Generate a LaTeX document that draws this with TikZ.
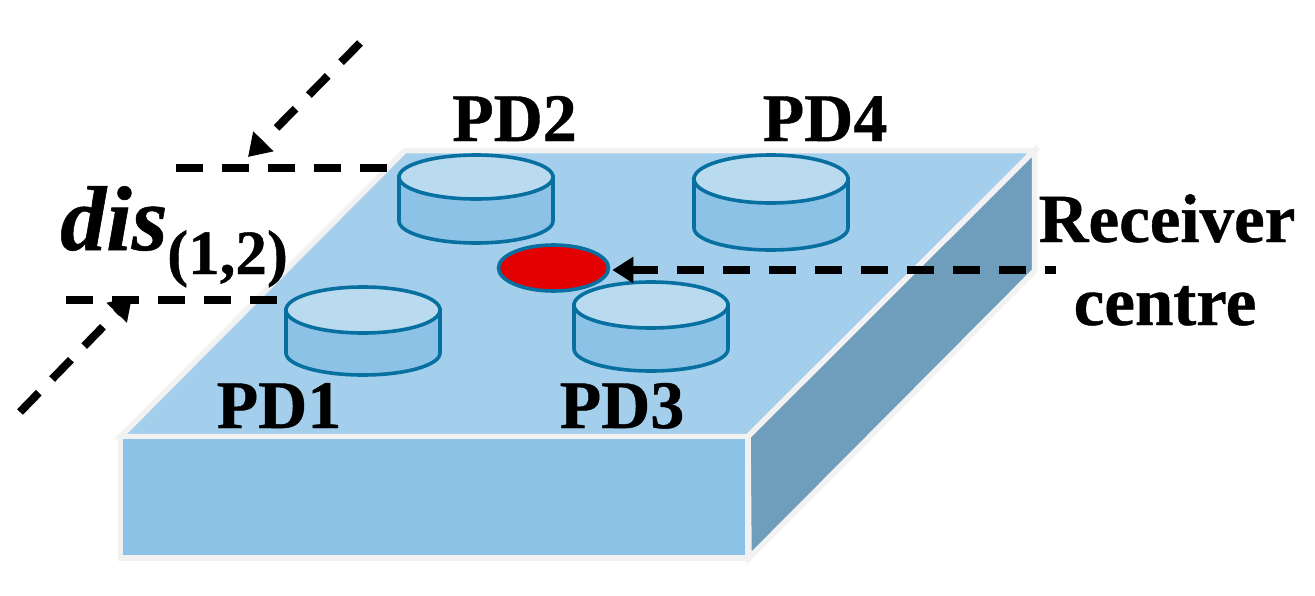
\documentclass[tikz,border=0pt]{standalone}
\usepackage{fontspec}
\setmainfont[BoldFeatures={FakeBold=0.6},BoldItalicFeatures={FakeBold=0.6}]{Liberation Serif}
\usetikzlibrary{arrows.meta,shapes.geometric}
\definecolor{boxedge}{HTML}{F2F2F2}
\definecolor{boxtop}{HTML}{A3CFED}
\definecolor{boxfront}{HTML}{8BC2E6}
\definecolor{boxright}{HTML}{6F9EBD}
\definecolor{pdtop}{HTML}{BADAF0}
\definecolor{pdline}{HTML}{0770A0}
\definecolor{centrered}{HTML}{E30000}
\tikzset{
  face/.style={draw=boxedge,line width=5.5pt,line join=miter},
  pdbody/.style={draw=pdline,line width=3.6pt,fill=boxfront},
  pdlid/.style={draw=pdline,line width=3.6pt,fill=pdtop},
  guide/.style={line width=8pt,dash pattern=on 27pt off 19pt},
  pointer/.style={guide,-{Triangle[length=22pt,width=27pt]}},
  lab/.style={inner sep=0pt,anchor=base,font=\fontsize{68}{72}\selectfont\bfseries},
  labw/.style={inner sep=0pt,anchor=base,font=\fontsize{69}{73}\selectfont\bfseries}
}
% centre x, centre y of lid, lid half height, total drop from lid centre to lowest point
\newcommand{\pdcyl}[4]{%
  \path[pdbody] (#1-77,#2) -- (#1-77,#2+#4-22)
    arc[start angle=180,end angle=360,x radius=77pt,y radius=22pt]
    -- (#1+77,#2) -- cycle;
  \path[pdlid] (#1,#2) ellipse[x radius=77pt,y radius=#3pt];
}
\begin{document}
\begin{tikzpicture}[x=1pt,y=-1pt]
\useasboundingbox (0,0) rectangle (1315,595);
\fill[white] (0,0) rectangle (1315,595);
% box
\path[face,fill=boxtop] (120.5,436.5) -- (748,436.5) -- (1034.5,150.5) -- (405,150.5) -- cycle;
\path[face,fill=boxright] (748,436.5) -- (1034.5,150.5) -- (1034.5,271) -- (749,558) -- cycle;
\path[face,fill=boxfront] (120.5,436.5) rectangle (748,558);
% photodiodes and centre
\pdcyl{476}{177}{22}{66}
\pdcyl{771}{179}{24}{71}
\node[ellipse,draw=pdline,line width=3.6pt,fill=centrered,minimum width=110pt,minimum height=46pt,inner sep=0pt] (rc) at (553.5,268) {};
\pdcyl{363}{310}{23}{65}
\pdcyl{651}{305}{23}{66}
% guides
\coordinate (a1) at (176,168);
\coordinate (a2) at (388,168);
\coordinate (b1) at (66,300);
\coordinate (b2) at (278,300);
\coordinate (c1) at (360,43);
\coordinate (c2) at (248,157);
\coordinate (d1) at (20,412);
\coordinate (d2) at (132,297);
\coordinate (e1) at (1056,270);
\draw[guide] (a1) -- (a2);
\draw[guide] (b1) -- (b2);
\draw[pointer] (c1) -- (c2);
\draw[pointer] (d1) -- (d2);
\draw[guide,dash phase=16pt,-{Triangle[length=21pt,width=25pt]},shorten >=2pt] (e1) -- (rc.east |- e1);
% labels
\node[lab] (pd2) at (514.5,141) {PD2};
\node[lab] (pd4) at (825,141) {PD4};
\node[lab] (pd1) at (279,428) {PD1};
\node[lab] (pd3) at (622,428) {PD3};
\node[labw] (rcv) at (1167,242) {Receiver};
\node[labw] (ctr) at (1165,325) {centre};
\node[inner sep=0pt,anchor=base west,font=\fontsize{92}{96}\selectfont\bfseries\itshape] (dis) at (60,250) {dis};
\node[inner sep=0pt,anchor=base west,font=\fontsize{63}{67}\selectfont\bfseries] (sub) at (167,274) {(1,2)};
\end{tikzpicture}
\end{document}
